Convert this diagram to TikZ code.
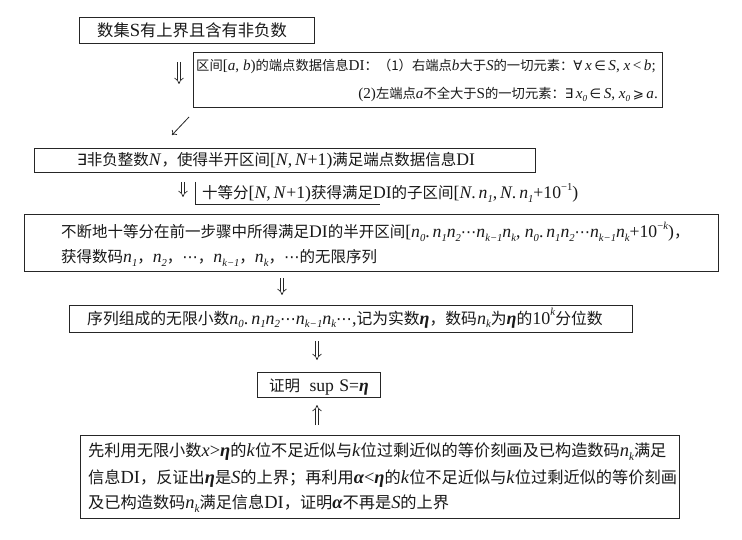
\documentclass[tikz,border=0pt]{standalone}
\usepackage{fontspec}
\setmainfont{Noto Sans CJK SC}
\newfontfamily\lat[Scale=1.14]{Liberation Serif}
\newfontfamily\dvs{DejaVu Sans}
\usetikzlibrary{arrows.meta}
\newcommand\szA{\fontsize{16.3}{20}\selectfont}
\newcommand\szB{\fontsize{13.3}{17}\selectfont}
\newcommand\szC{\fontsize{15.5}{18}\selectfont}
\newcommand\szD{\fontsize{15.5}{18}\selectfont}
\newcommand\szF{\fontsize{15.8}{18}\selectfont}
\newcommand\szE{\fontsize{16.2}{19}\selectfont}
\newcommand\li[1]{{\lat #1}}
\newcommand\sy[1]{{\dvs #1}}
\newcommand\bg[1]{{\lat\bfseries\itshape #1}}
\newcommand\lo[1]{\raisebox{-0.22em}{\scalebox{0.6}{\lat\itshape #1}}}
\newcommand\hi[1]{\raisebox{0.48em}{\scalebox{0.6}{\lat #1}}}
\begin{document}
\begin{tikzpicture}[x=1pt,y=-1pt,
  box/.style={draw=black!85, line width=0.9pt, inner sep=0pt, anchor=north west},
  txt/.style={inner sep=0pt, anchor=base west, text=black!90},
  txtr/.style={inner sep=0pt, anchor=base east, text=black!90},
  dbl/.style={draw=black!85, double=white, double distance=2.6pt, line width=0.7pt, -{Implies}},
  thin/.style={draw=black!85, line width=0.8pt}]
\fill[white] (0,0) rectangle (742,540);
\useasboundingbox (0,0) rectangle (742,540);

% boxes
\node[box, minimum width=235pt, minimum height=26pt] (b1) at (79,17) {};
\node[box, minimum width=469pt, minimum height=55pt] (b2) at (193,52) {};
\node[box, minimum width=501pt, minimum height=24pt] (b3) at (34,148) {};
\node[box, minimum width=694pt, minimum height=57pt] (b4) at (24,214) {};
\node[box, minimum width=563pt, minimum height=27pt] (b5) at (69,305) {};
\node[box, minimum width=123pt, minimum height=25pt] (b6) at (257,372) {};
\node[box, minimum width=599pt, minimum height=83pt] (b7) at (80,435) {};

% texts
\node[txt] (t1) at (97,36.5) {\szA 数集\li{S}有上界且含有非负数};
\node[txt] (t2a) at (196,70.3) {\szB 区间\li{[\textit{a}, \textit{b})}的端点数据信息\li{DI}：（1）右端点\li{\textit{b}}大于\li{\textit{S}}的一切元素：\sy{∀}\li{\,\textit{x}\,}\sy{∈}\li{\,\textit{S}, \textit{x}\,<\,\textit{b};}};
\node[txtr] (t2b) at (658,98.3) {\szB \li{(2)}左端点\li{\textit{a}}不全大于\li{S}的一切元素：\sy{∃}\li{\,\textit{x}\lo{0}\,}\sy{∈}\li{\,\textit{S}, \textit{x}\lo{0}\,}\sy{⩾}\li{\,\textit{a}.}};
\node[txt] (t3) at (77,165.7) {\szC \sy{∃}非负整数\li{\textit{N}}，使得半开区间\li{[\textit{N},\,\textit{N}+1)}满足端点数据信息\li{DI}};
\node[txt] (t3b) at (202,198.7) {\szC 十等分\li{[\textit{N},\,\textit{N}+1)}获得满足\li{DI}的子区间\li{[\textit{N}.\,\textit{n}\lo{1},\,\textit{N}.\,\textit{n}\lo{1}+10\hi{−1})}};
\node[txt] (t4a) at (61,238) {\szD 不断地十等分在前一步骤中所得满足\li{DI}的半开区间\li{[\textit{n}\lo{0}.\,\textit{n}\lo{1}\textit{n}\lo{2}}\sy{⋯}\li{\textit{n}\lo{k−1}\textit{n}\lo{k}, \textit{n}\lo{0}.\,\textit{n}\lo{1}\textit{n}\lo{2}}\sy{⋯}\li{\textit{n}\lo{k−1}\textit{n}\lo{k}+10\hi{−\textit{k}})}，};
\node[txt] (t4b) at (61,263) {\szD 获得数码\li{\textit{n}\lo{1}}，\li{\textit{n}\lo{2}}，\sy{⋯}，\li{\textit{n}\lo{k−1}}，\li{\textit{n}\lo{k}}，\sy{⋯}的无限序列};
\node[txt] (t5) at (87,324) {\szF 序列组成的无限小数\li{\textit{n}\lo{0}.\,\textit{n}\lo{1}\textit{n}\lo{2}}\sy{⋯}\li{\textit{n}\lo{k−1}\textit{n}\lo{k}}\sy{⋯}\li{,}记为实数\bg{η}，数码\li{\textit{n}\lo{k}}为\bg{η}的\li{10\hi{\textit{k}}}分位数};
\node[txt] (t6) at (269,391) {\szD 证明\hspace{0.6em}\li{sup\hspace{0.3em}S=}\bg{η}};
\node[txt] (t7a) at (88,456) {\szE 先利用无限小数\li{\textit{x}>}\bg{η}的\li{\textit{k}}位不足近似与\li{\textit{k}}位过剩近似的等价刻画及已构造数码\li{\textit{n}\lo{k}}满足};
\node[txt] (t7b) at (88,483) {\szE 信息\li{DI}，反证出\bg{η}是\li{\textit{S}}的上界；再利用\bg{α}\li{<}\bg{η}的\li{\textit{k}}位不足近似与\li{\textit{k}}位过剩近似的等价刻画};
\node[txt] (t7c) at (88,508) {\szE 及已构造数码\li{\textit{n}\lo{k}}满足信息\li{DI}，证明\bg{α}不再是\li{\textit{S}}的上界};

% arrows
\coordinate (a1s) at (179,62);  \coordinate (a1e) at (179,84);
\draw[dbl] (a1s) -- (a1e);
\coordinate (c1) at (189,117); \coordinate (c2) at (172,135);
\draw[thin, -{To[length=4pt,width=7pt]}] (c1) -- (c2);
\coordinate (a2s) at (183,182); \coordinate (a2e) at (183,197);
\draw[dbl] (a2s) -- (a2e);
\coordinate (u1) at (195,182); \coordinate (u2) at (195,204); \coordinate (u3) at (380,204);
\draw[thin] (u1) -- (u2) -- (u3);
\coordinate (a3s) at (282,278); \coordinate (a3e) at (282,295);
\draw[dbl] (a3s) -- (a3e);
\coordinate (a4s) at (317,341); \coordinate (a4e) at (317,360);
\draw[dbl] (a4s) -- (a4e);
\coordinate (a5s) at (317,425); \coordinate (a5e) at (317,405);
\draw[dbl] (a5s) -- (a5e);
\end{tikzpicture}
\end{document}
